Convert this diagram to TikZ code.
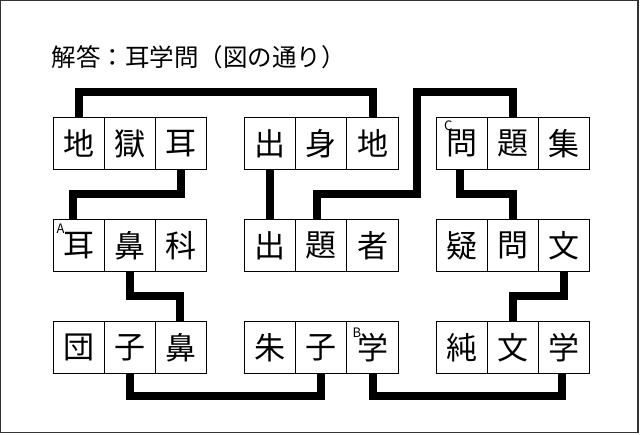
\documentclass[tikz,border=0pt]{standalone}
\usepackage{fontspec}
\usepackage{tikz}
\usetikzlibrary{positioning}
\newfontfamily\jp{Noto Sans CJK JP}

\begin{document}
\begin{tikzpicture}[x=1pt, y=1pt, node distance=0pt,
  box/.style={draw, line width=1pt, minimum size=51.2pt, inner sep=0pt, outer sep=0pt, font=\jp\fontsize{31}{31}\selectfont},
  wire/.style={line width=8pt, line join=miter},
  tag/.style={anchor=north west, inner sep=0pt, font=\jp\fontsize{13}{13}\selectfont}]
\useasboundingbox (0,0) rectangle (640,435);
\draw[black!80, line width=1.3pt] (0.7,2.6) rectangle (638,434.3);
\node[anchor=west, inner sep=0pt, font=\jp\fontsize{24.5}{24.5}\selectfont] (title) at (51.5,378) {解答：耳学問（図の通り）};
% lanes for the connectors
\coordinate (top) at (0,342.5);
\coordinate (mid) at (0,240.5);
\coordinate (low) at (0,138.5);
\coordinate (bot) at (0,38.5);
\coordinate (gap) at (417,0);
% row 1
\node[box] (a1) at (78.6,291.4) {地}; \node[box,right=of a1] (a2) {獄}; \node[box,right=of a2] (a3) {耳};
\node[box] (b1) at (270.1,291.4) {出}; \node[box,right=of b1] (b2) {身}; \node[box,right=of b2] (b3) {地};
\node[box] (c1) at (461.6,291.4) {問}; \node[box,right=of c1] (c2) {題}; \node[box,right=of c2] (c3) {集};
% row 2
\node[box] (d1) at (78.6,189.4) {耳}; \node[box,right=of d1] (d2) {鼻}; \node[box,right=of d2] (d3) {科};
\node[box] (e1) at (270.1,189.4) {出}; \node[box,right=of e1] (e2) {題}; \node[box,right=of e2] (e3) {者};
\node[box] (f1) at (461.6,189.4) {疑}; \node[box,right=of f1] (f2) {問}; \node[box,right=of f2] (f3) {文};
% row 3
\node[box] (g1) at (78.6,87.4) {団}; \node[box,right=of g1] (g2) {子}; \node[box,right=of g2] (g3) {鼻};
\node[box] (h1) at (270.1,87.4) {朱}; \node[box,right=of h1] (h2) {子}; \node[box,right=of h2] (h3) {学};
\node[box] (i1) at (461.6,87.4) {純}; \node[box,right=of i1] (i2) {文}; \node[box,right=of i2] (i3) {学};
% small marks
\node[tag] (mA) at ([xshift=3.5pt,yshift=-4pt]d1.north west) {A};
\node[tag] (mB) at ([xshift=5.5pt,yshift=-5.5pt]h3.north west) {B};
\node[tag] (mC) at ([xshift=8pt,yshift=-3pt]c1.north west) {C};
% connectors
\draw[wire] (a1.north) -- (a1.north |- top) -| (b3.north);
\draw[wire] (a3.south) -- (a3.south |- mid) -| ([xshift=-6pt]d1.north);
\draw[wire] (b1.south) -- (e1.north);
\draw[wire] ([xshift=-4pt]e2.north) -- ([xshift=-4pt]e2.north |- mid) -| (gap |- top) -| (c2.north);
\draw[wire] ([xshift=-1.5pt]c1.south) -- ([xshift=-1.5pt]c1.south |- mid) -| (f2.north);
\draw[wire] (d2.south) -- (d2.south |- low) -| ([xshift=-1.5pt]g3.north);
\draw[wire] (f3.south) -- (f3.south |- low) -| (i2.north);
\draw[wire] (g2.south) -- (g2.south |- bot) -| (h2.south);
\draw[wire] (h3.south) -- (h3.south |- bot) -| ([xshift=-2pt]i3.south);
\end{tikzpicture}
\end{document}
